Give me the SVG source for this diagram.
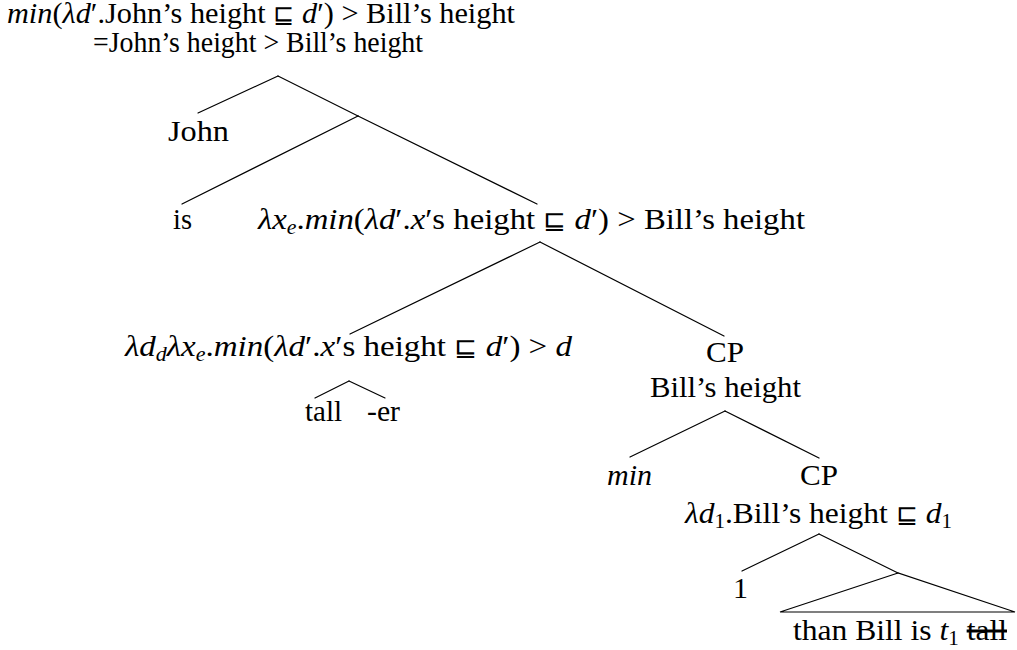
<svg xmlns="http://www.w3.org/2000/svg" width="1017" height="650" viewBox="0 0 1017 650">
<style>
text{font-family:"Liberation Serif","Times New Roman",serif;font-size:30px;fill:#000}
.i{font-style:italic}
.s{font-size:20px}
.q{font-family:"DejaVu Sans",sans-serif;font-weight:200;font-size:25px}
.e{stroke:#000;stroke-width:1.2;fill:none;stroke-linecap:round}
</style>
<rect width="1017" height="650" fill="#fff"/>
<g id="edges">
<line class="e" x1="278" y1="76" x2="198" y2="113"/>
<line class="e" x1="278" y1="76" x2="358" y2="116"/>
<line class="e" x1="358" y1="116" x2="182" y2="204"/>
<line class="e" x1="358" y1="116" x2="537" y2="204"/>
<line class="e" x1="540" y1="242" x2="350" y2="334"/>
<line class="e" x1="540" y1="242" x2="724" y2="336"/>
<line class="e" x1="349" y1="381" x2="315" y2="398"/>
<line class="e" x1="349" y1="381" x2="385" y2="398"/>
<line class="e" x1="725" y1="411" x2="630" y2="457"/>
<line class="e" x1="725" y1="411" x2="819" y2="458"/>
<line class="e" x1="819" y1="534" x2="742" y2="571"/>
<line class="e" x1="819" y1="534" x2="898" y2="573"/>
<polygon class="e" points="898,573 780,612 1015,612"/>
</g>
<g id="root">
<text x="7" y="23" textLength="508" lengthAdjust="spacingAndGlyphs"><tspan class="i">min</tspan>(<tspan class="i">λd</tspan>′.John’s height <tspan class="q">⊑</tspan> <tspan class="i">d</tspan>′) &gt; Bill’s height</text>
<text x="93" y="52" textLength="330" lengthAdjust="spacingAndGlyphs">=John’s height &gt; Bill’s height</text>
</g>
<g id="john"><text x="168" y="141" textLength="61" lengthAdjust="spacingAndGlyphs">John</text></g>
<g id="is"><text x="173" y="229" textLength="19" lengthAdjust="spacingAndGlyphs">is</text></g>
<g id="vp"><text x="258" y="229" textLength="547" lengthAdjust="spacingAndGlyphs"><tspan class="i">λx</tspan><tspan class="i s" dy="5">e</tspan><tspan dy="-5">.</tspan><tspan class="i">min</tspan>(<tspan class="i">λd</tspan>′.<tspan class="i">x</tspan>′s height <tspan class="q">⊑</tspan> <tspan class="i">d</tspan>′) &gt; Bill’s height</text></g>
<g id="er-phrase"><text x="125" y="356" textLength="447" lengthAdjust="spacingAndGlyphs"><tspan class="i">λd</tspan><tspan class="i s" dy="5">d</tspan><tspan class="i" dy="-5">λx</tspan><tspan class="i s" dy="5">e</tspan><tspan dy="-5">.</tspan><tspan class="i">min</tspan>(<tspan class="i">λd</tspan>′.<tspan class="i">x</tspan>′s height <tspan class="q">⊑</tspan> <tspan class="i">d</tspan>′) &gt; <tspan class="i">d</tspan></text></g>
<g id="tall"><text x="305" y="421" textLength="37" lengthAdjust="spacingAndGlyphs">tall</text></g>
<g id="er"><text x="367" y="421" textLength="33" lengthAdjust="spacingAndGlyphs">-er</text></g>
<g id="cp1">
<text x="706" y="362" textLength="38" lengthAdjust="spacingAndGlyphs">CP</text>
<text x="650" y="397" textLength="151" lengthAdjust="spacingAndGlyphs">Bill’s height</text>
</g>
<g id="min"><text class="i" x="607" y="485" textLength="45" lengthAdjust="spacingAndGlyphs">min</text></g>
<g id="cp2">
<text x="800" y="485" textLength="38" lengthAdjust="spacingAndGlyphs">CP</text>
<text x="685" y="523" textLength="267" lengthAdjust="spacingAndGlyphs"><tspan class="i">λd</tspan><tspan class="s" dy="5">1</tspan><tspan dy="-5">.Bill’s height </tspan><tspan class="q">⊑</tspan> <tspan class="i">d</tspan><tspan class="s" dy="5">1</tspan></text>
</g>
<g id="one"><text x="733" y="598" textLength="15" lengthAdjust="spacingAndGlyphs">1</text></g>
<g id="than"><text x="793" y="640" textLength="214" lengthAdjust="spacingAndGlyphs">than Bill is <tspan class="i">t</tspan><tspan class="s" dy="5">1</tspan><tspan dy="-5"> </tspan><tspan text-decoration="line-through">tall</tspan></text></g>
</svg>
